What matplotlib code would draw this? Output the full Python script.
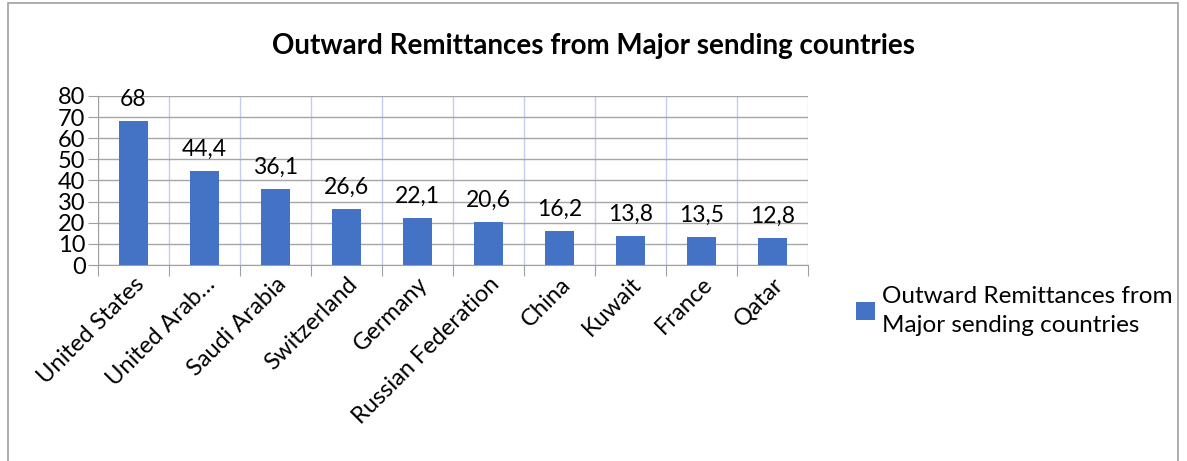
import matplotlib.pyplot as plt
from matplotlib.patches import Rectangle

countries = ["United States", "United Arab\u2026", "Saudi Arabia", "Switzerland", "Germany",
             "Russian Federation", "China", "Kuwait", "France", "Qatar"]
values = [68, 44.4, 36.1, 26.6, 22.1, 20.6, 16.2, 13.8, 13.5, 12.8]
labels = ["68", "44,4", "36,1", "26,6", "22,1", "20,6", "16,2", "13,8", "13,5", "12,8"]
series_name = "Outward Remittances from\nMajor sending countries"
title = "Outward Remittances from Major sending countries"

plt.rcParams['font.family'] = ['Lato', 'DejaVu Sans']
blue = "#4472c4"

fig = plt.figure(figsize=(11.87, 4.61), dpi=100)
fig.patches.append(Rectangle((0.007, -0.05), 0.985, 1.043, transform=fig.transFigure,
                             fill=False, edgecolor="#a0a0a0", linewidth=1.2))

ax = fig.add_axes([0.0826, 0.425, 0.598, 0.367])
x = list(range(len(countries)))
bars = ax.bar(x, values, width=0.41, color=blue, zorder=3)

for xi, v, lab in zip(x, values, labels):
    ax.annotate(lab, (xi, v), xytext=(0, 8), textcoords="offset points",
                ha="center", va="bottom", fontsize=16.5)

ax.set_xlim(-0.5, len(countries) - 0.5)
ax.set_ylim(0, 80)
ax.set_yticks(range(0, 81, 10))
ax.tick_params(axis="y", labelsize=17, length=7, color="#a0a0a0", pad=2)

# category boundaries: ticks and light vertical grid
bounds = [i - 0.5 for i in range(len(countries) + 1)]
ax.set_xticks(bounds)
ax.set_xticklabels([])
ax.set_xticks(x, minor=True)
ax.set_xticklabels(countries, minor=True, rotation=45, ha="right",
                   rotation_mode="anchor", fontsize=17)
ax.tick_params(axis="x", which="major", length=8, color="#a0a0a0")
ax.tick_params(axis="x", which="minor", length=0, pad=6)

ax.grid(axis="y", color="#a6a6a6", linewidth=1.0, zorder=0)
ax.grid(axis="x", which="major", color="#c5cdf0", linewidth=1.0, zorder=0)

for s in ["top", "right"]:
    ax.spines[s].set_visible(False)
ax.spines["left"].set_color("#a0a0a0")
ax.spines["bottom"].set_color("#a0a0a0")

fig.text(0.5, 0.9, title, ha="center", va="center", fontsize=20, fontweight="bold")

fig.legend([bars], [series_name], loc="center left", bbox_to_anchor=(0.703, 0.325),
           frameon=False, fontsize=17.5, handlelength=0.75, handleheight=0.75,
           handletextpad=0.3, labelspacing=0.5)
for t in fig.legends[0].get_texts():
    t.set_linespacing(1.45)

fig.savefig("out.png", dpi=100)
